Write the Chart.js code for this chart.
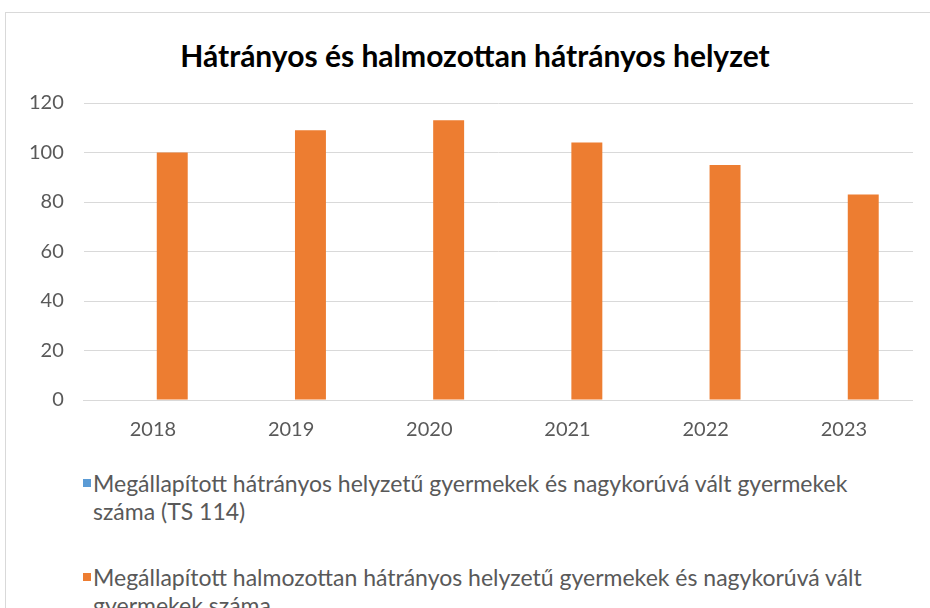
<!DOCTYPE html>
<html>
<head>
<meta charset="utf-8">
<script src="https://cdn.jsdelivr.net/npm/chart.js@4/dist/chart.umd.min.js"></script>
<style>
  body { margin: 0; background: #fff; overflow: hidden; }
  #card { position: absolute; left: 5px; top: 12px; width: 940px; height: 620px;
          border: 1px solid #d9d9d9; box-sizing: border-box; background: #fff; }
  #title { position: absolute; left: 0; top: 24px; width: 938px; text-align: center;
           font-family: Lato, sans-serif; font-weight: bold; font-size: 30px;
           line-height: 36px; color: #000; }
  #wrap { position: absolute; left: 0; top: 0; width: 907px; height: 439px; }
  #legend { position: absolute; left: 77px; top: 456px; width: 800px;
            font-family: Lato, sans-serif; font-size: 23px;
            color: #595959; line-height: 28px; }
  .item { position: relative; padding-left: 10px; margin-bottom: 38px; }
  .box { position: absolute; left: 0; top: 10px; width: 8px; height: 8px; }
</style>
</head>
<body>
<div id="card">
  <div id="title">Hátrányos és halmozottan hátrányos helyzet</div>
  <div id="wrap"><canvas id="myChart"></canvas></div>
  <div id="legend"></div>
</div>
<script>
// Hátrányos és halmozottan hátrányos helyzet
var years = ["2018", "2019", "2020", "2021", "2022", "2023"];
var hhValues = [0, 0, 0, 0, 0, 0];
var hhhValues = [100, 109, 113, 104, 95, 83];
var seriesNames = [
    "Megállapított hátrányos helyzetű gyermekek és nagykorúvá vált gyermekek száma (TS 114)",
    "Megállapított halmozottan hátrányos helyzetű gyermekek és nagykorúvá vált gyermekek száma"
];
var barColors = ["#5b9bd5", "#ed7d31"];

var chart = new Chart("myChart", {
    type: "bar",
    data: {
        labels: years,
        datasets: [
            { label: seriesNames[0], data: hhValues, backgroundColor: barColors[0] },
            { label: seriesNames[1], data: hhhValues, backgroundColor: barColors[1] }
        ]
    },
    options: {
        responsive: true,
        maintainAspectRatio: false,
        animation: false,
        // top padding leaves room for the html title above
        layout: { padding: { left: 3, right: 0, top: 90, bottom: 0 } },
        datasets: { bar: { categoryPercentage: 0.56, barPercentage: 0.8 } },
        plugins: {
            legend: { display: false },
            tooltip: { enabled: false },
            title: { display: false }
        },
        scales: {
            x: {
                grid: { display: false },
                border: { color: "#d9d9d9" },
                ticks: { color: "#595959", font: { family: "Lato, sans-serif", size: 20 }, padding: 10 }
            },
            y: {
                min: 0,
                max: 120,
                ticks: { stepSize: 20, color: "#595959", font: { family: "Lato, sans-serif", size: 20 }, padding: 20 },
                grid: { color: "#d9d9d9", drawTicks: false },
                border: { display: false }
            }
        }
    }
});

// legend in HTML so the long series names can wrap like the original
var legendDiv = document.getElementById("legend");
chart.data.datasets.forEach(function (ds) {
    var item = document.createElement("div");
    item.className = "item";
    var box = document.createElement("span");
    box.className = "box";
    box.style.background = ds.backgroundColor;
    item.appendChild(box);
    item.appendChild(document.createTextNode(ds.label));
    legendDiv.appendChild(item);
});
</script>
</body>
</html>
